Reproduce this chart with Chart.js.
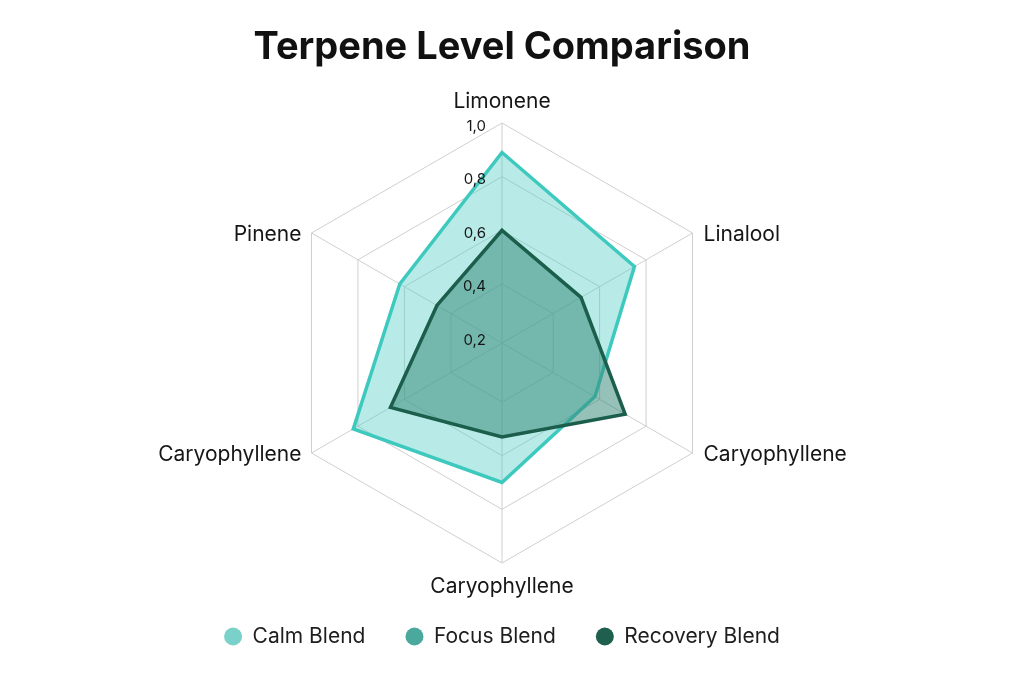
<!DOCTYPE html>
<html>
<head>
<meta charset="utf-8">
<script src="https://cdn.jsdelivr.net/npm/chart.js@4/dist/chart.umd.min.js"></script>
<style>
  html, body { margin: 0; padding: 0; background: #ffffff; }
  #wrap { width: 1024px; height: 683px; position: relative; }
</style>
</head>
<body>
<div id="wrap"><canvas id="chart"></canvas></div>
<script>
// ---- data ----
const TITLE = 'Terpene Level Comparison';
const CATEGORIES = ['Limonene', 'Linalool', 'Caryophyllene', 'Caryophyllene', 'Caryophyllene', 'Pinene'];
const SERIES_NAMES = ['Calm Blend', 'Focus Blend', 'Recovery Blend'];
const CALM = [0.89, 0.75, 0.58, 0.70, 0.82, 0.62];
const FOCUS = [0.60, 0.52, 0.71, 0.53, 0.66, 0.46];
const RECOVERY = [0.60, 0.52, 0.71, 0.53, 0.66, 0.46];
const TICK_VALUES = [0.2, 0.4, 0.6, 0.8, 1.0];
const TICK_LABELS = ['0,2', '0,4', '0,6', '0,8', '1,0'];
const SCALE_MIN = 0.18;
const SCALE_MAX = 1.0;

// ---- styles ----
const FONT = 'Inter';
const LEGEND_COLORS = ['#79d1c9', '#4aa89d', '#1e5f4e'];
const BORDER_COLORS = ['#3ec9be', '#48a89c', '#1c5e4c'];
const FILL_COLORS = ['rgba(78,205,196,0.40)', 'rgba(72,168,156,0.40)', 'rgba(30,94,78,0.22)'];
const BORDER_WIDTHS = [3.5, 2, 3.5];
const DRAW_ORDER = [2, 1, 0];

Chart.defaults.font.family = FONT;
Chart.defaults.color = '#1a1a1a';

const labelPlugin = {
  id: 'customRadialLabels',
  afterDatasetsDraw(chart) {
    const s = chart.scales.r;
    const ctx = chart.ctx;
    ctx.save();
    ctx.fillStyle = '#161616';
    ctx.textBaseline = 'middle';
    // point labels
    ctx.font = '21px ' + FONT;
    chart.data.labels.forEach((lab, i) => {
      const p = s.getPointPosition(i, s.drawingArea);
      const dx = p.x - s.xCenter;
      let x = p.x, y = p.y;
      if (Math.abs(dx) < 1) {
        ctx.textAlign = 'center';
        y = p.y < s.yCenter ? p.y - 21.5 : p.y + 24;
      } else if (dx > 0) {
        ctx.textAlign = 'left';
        x = p.x + 11;
        y = p.y + 1.5;
      } else {
        ctx.textAlign = 'right';
        x = p.x - 10;
        y = p.y + 1.5;
      }
      ctx.fillText(lab, x, y);
    });
    // tick labels
    ctx.font = '15px ' + FONT;
    ctx.textAlign = 'right';
    s.ticks.forEach((t, i) => {
      const d = s.getDistanceFromCenterForValue(t.value);
      ctx.fillText(TICK_LABELS[i], s.xCenter - 16, s.yCenter - d + 3);
    });
    ctx.restore();
  }
};

const seriesData = [CALM, FOCUS, RECOVERY];

new Chart(document.getElementById('chart'), {
  type: 'radar',
  data: {
    labels: CATEGORIES,
    datasets: SERIES_NAMES.map((name, i) => ({
      label: name,
      data: seriesData[i],
      borderColor: BORDER_COLORS[i],
      backgroundColor: FILL_COLORS[i],
      borderWidth: BORDER_WIDTHS[i],
      pointRadius: 0,
      pointHoverRadius: 0,
      fill: true,
      order: DRAW_ORDER[i],
      borderJoinStyle: 'miter'
    }))
  },
  options: {
    responsive: true,
    maintainAspectRatio: false,
    animation: false,
    layout: { padding: { top: 0, left: 0, right: 20, bottom: 26 } },
    scales: {
      r: {
        min: SCALE_MIN,
        max: SCALE_MAX,
        afterBuildTicks: (scale) => { scale.ticks = TICK_VALUES.map(v => ({ value: v })); },
        ticks: { display: false },
        pointLabels: { display: false },
        grid: { color: '#cfcfcf', lineWidth: 1 },
        angleLines: { color: '#cfcfcf', lineWidth: 1 }
      }
    },
    plugins: {
      title: {
        display: true,
        text: TITLE,
        color: '#111111',
        font: { size: 38, weight: 'bold', family: FONT },
        padding: { top: 24.5, bottom: 52.5 }
      },
      legend: {
        position: 'bottom',
        title: { display: true, text: '', font: { size: 10 }, padding: { top: 0, bottom: 10.2 } },
        labels: {
          usePointStyle: true,
          pointStyle: 'circle',
          pointStyleWidth: 18,
          boxHeight: 12.7,
          padding: 40,
          color: '#1e1e1e',
          font: { size: 21, family: FONT },
          sort: (a, b) => a.datasetIndex - b.datasetIndex,
          generateLabels: (chart) => Chart.defaults.plugins.legend.labels.generateLabels(chart).map(l => ({
            ...l,
            fillStyle: LEGEND_COLORS[l.datasetIndex],
            strokeStyle: LEGEND_COLORS[l.datasetIndex],
            lineWidth: 0
          }))
        }
      },
      tooltip: { enabled: false }
    }
  },
  plugins: [labelPlugin]
});
</script>
</body>
</html>
